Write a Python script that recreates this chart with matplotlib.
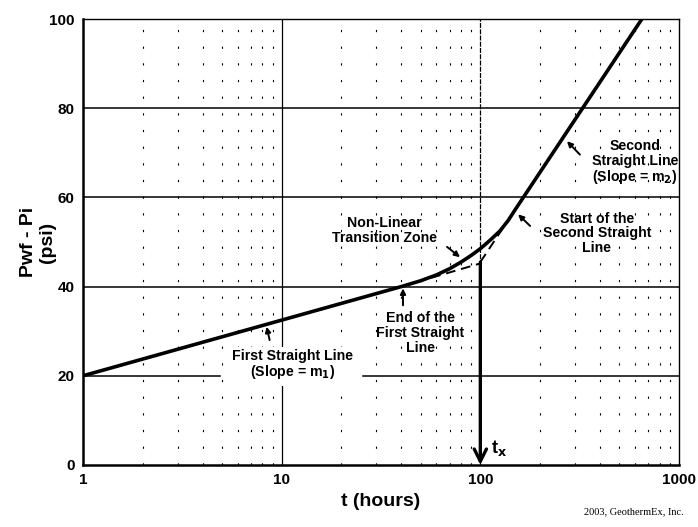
import matplotlib
matplotlib.use("Agg")
import matplotlib.pyplot as plt
from matplotlib.ticker import LogLocator, FixedLocator, NullFormatter

plt.rcParams["font.family"] = ["Liberation Sans", "DejaVu Sans"]
plt.rcParams["font.weight"] = "bold"

# ----------------- Data -----------------
# solid pressure response: first straight line, transition, second straight line
t_curve = [1, 40, 50, 60, 70, 80, 90, 100, 112, 125, 138, 150, 650]
p_curve = [20.0, 40.0, 41.3, 42.6, 44.0, 45.5, 47.0, 48.5, 50.4, 52.4, 54.8, 57.3, 100.0]

# dashed extrapolations of both straight lines to t = 100
t_first_ext = [40, 100]
p_first_ext = [40.0, 45.2]
t_second_ext = [100, 150]
p_second_ext = [45.5, 57.3]

t_x = 100
p_x_top = 45.5

y_ticks = [0, 20, 40, 60, 80, 100]
x_ticks = [1, 10, 100, 1000]

# labels: text, text position (t, p), arrow tail (t, p), arrow tip (t, p)
notes = [
    ("First Straight Line\n(Slope = m$_\\mathbf{1}$)", (11.3, 22.4), (8.7, 28.0), (8.4, 31.0)),
    ("End of the\nFirst Straight\nLine", (50.0, 29.6), (40.8, 35.8), (40.8, 39.6)),
    ("Non-Linear\nTransition Zone", (33.0, 52.6), (68.0, 48.9), (79.0, 46.6)),
    ("Start of the\nSecond Straight\nLine", (386, 52.0), (178, 53.6), (155, 56.2)),
    ("Second\nStraight Line\n(Slope = m$_\\mathbf{2}$)", (600, 67.8), (317, 69.6), (273, 72.6)),
]

# ----------------- Plot -----------------
fig = plt.figure(figsize=(6.98, 5.27), dpi=100)
ax = fig.add_axes([0.1189, 0.1177, 0.8539, 0.8462])

ax.set_xscale("log")
ax.set_xlim(1, 1000)
ax.set_ylim(0, 100)

# grid
ax.xaxis.set_minor_locator(LogLocator(base=10, subs=range(2, 10)))
ax.xaxis.set_minor_formatter(NullFormatter())
ax.grid(which="minor", axis="x", color="black", linewidth=0.8,
        linestyle=(0, (2, 13)))
ax.axvline(10, color="black", linewidth=0.9, zorder=1)
ax.axvline(100, color="black", linewidth=0.9, linestyle=(0, (4, 1)), zorder=1)
for yv in [40, 60, 80]:
    ax.axhline(yv, color="black", linewidth=1.1, zorder=1)
# the p = 20 line is broken behind the first label
ax.axhline(20, xmax=0.23, color="black", linewidth=1.1, zorder=1)
ax.axhline(20, xmin=0.47, color="black", linewidth=1.1, zorder=1)

ax.plot(t_curve, p_curve, color="black", linewidth=2.6, zorder=4)
ax.plot(t_first_ext, p_first_ext, color="black", linewidth=1.4,
        linestyle=(0, (5, 3)), zorder=3)
ax.plot(t_second_ext, p_second_ext, color="black", linewidth=1.4,
        linestyle=(0, (5, 3)), zorder=3)

# t_x arrow
ax.annotate("", xy=(t_x, 0), xytext=(t_x, p_x_top),
            arrowprops=dict(arrowstyle="->", lw=2.4, color="black",
                            mutation_scale=22, shrinkA=0, shrinkB=0),
            zorder=5)
ax.text(113, 1.5, "t$_\\mathbf{x}$", fontsize=13, fontweight="bold", ha="left", va="bottom")

# ----------------- Annotations -----------------
for i, (txt, pos, tail, tip) in enumerate(notes):
    box = None
    if i == 0:
        box = dict(facecolor="white", edgecolor="none", pad=3)
    ax.text(pos[0], pos[1], txt, ha="center", va="center", fontsize=10.2,
            fontweight="bold", linespacing=1.05, bbox=box, zorder=6)
    ax.annotate("", xy=tip, xytext=tail,
                arrowprops=dict(arrowstyle="-|>", lw=1.4, color="black",
                                mutation_scale=8, shrinkA=0, shrinkB=0),
                zorder=7)

# ----------------- Axes styling -----------------
ax.xaxis.set_major_locator(FixedLocator(x_ticks))
ax.set_xticklabels([str(v) for v in x_ticks])
ax.set_yticks(y_ticks)
ax.tick_params(axis="both", which="both", length=0, labelsize=11, pad=6)
for lbl in ax.get_xticklabels() + ax.get_yticklabels():
    lbl.set_fontweight("bold")

ax.set_xlabel("t (hours)", fontsize=14, fontweight="bold", labelpad=4)
ax.set_ylabel("Pwf - Pi\n(psi)", fontsize=14, fontweight="bold", linespacing=1.15)
ax.yaxis.set_label_coords(-0.045, 0.5)

for side in ["left", "bottom"]:
    ax.spines[side].set_linewidth(1.8)
ax.spines["top"].set_linewidth(1.0)
ax.spines["right"].set_linewidth(1.0)
ax.spines["right"].set_linestyle((0, (2, 1)))

fig.text(0.98, 0.02, "2003, GeothermEx, Inc.", family=["Liberation Serif", "DejaVu Serif"],
         fontsize=7.5, fontweight="normal", ha="right", va="bottom")

fig.savefig("out.png", dpi=100)
